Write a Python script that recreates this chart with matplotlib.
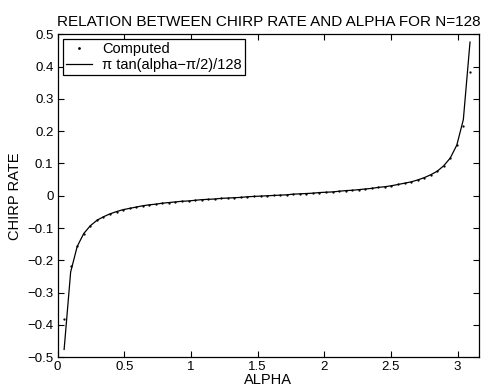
import numpy as np
from matplotlib import pyplot as plt

plt.rcParams['font.family'] = ['Liberation Sans', 'DejaVu Sans']

# alpha samples (k * pi / 64, k = 1..63)
alpha = [0.049, 0.098, 0.147, 0.196, 0.245, 0.295, 0.344, 0.393, 0.442,
         0.491, 0.540, 0.589, 0.638, 0.687, 0.736, 0.785, 0.834, 0.884,
         0.933, 0.982, 1.031, 1.080, 1.129, 1.178, 1.227, 1.276, 1.325,
         1.374, 1.424, 1.473, 1.522, 1.571, 1.620, 1.669, 1.718, 1.767,
         1.816, 1.865, 1.914, 1.963, 2.013, 2.062, 2.111, 2.160, 2.209,
         2.258, 2.307, 2.356, 2.405, 2.454, 2.503, 2.553, 2.602, 2.651,
         2.700, 2.749, 2.798, 2.847, 2.896, 2.945, 2.994, 3.043, 3.093]

# curve pi*tan(alpha-pi/2)/128
half_curve = [-0.476, -0.236, -0.157, -0.117, -0.093, -0.076, -0.065, -0.056,
              -0.049, -0.043, -0.039, -0.035, -0.031, -0.028, -0.026, -0.023,
              -0.021, -0.019, -0.017, -0.016, -0.014, -0.012, -0.011, -0.010,
              -0.008, -0.007, -0.006, -0.005, -0.003, -0.002, -0.001]
curve = half_curve + [0.0] + [-v for v in half_curve[::-1]]

# computed chirp rates (dots)
half_computed = [-0.382, -0.216] + half_curve[2:]
computed = half_computed + [0.0] + [-v for v in half_computed[::-1]]

fig = plt.figure(figsize=(4.88, 3.9), dpi=100)
ax = fig.add_axes([0.118, 0.084, 0.864, 0.828])

ax.plot(alpha, computed, '.', color='black', markersize=1.3, label='Computed')
ax.plot(alpha, curve, '-', color='black', linewidth=0.9,
        label='\u03c0 tan(alpha\u2212\u03c0/2)/128')

ax.set_xlim(0, 3.162)
ax.set_ylim(-0.5, 0.5)
ax.set_xticks([0, 0.5, 1, 1.5, 2, 2.5, 3])
ax.set_xticklabels(['0', '0.5', '1', '1.5', '2', '2.5', '3'])
ax.set_yticks(np.round(np.arange(-0.5, 0.51, 0.1), 1))
ax.set_yticklabels(['\u22120.5', '\u22120.4', '\u22120.3', '\u22120.2', '\u22120.1', '0',
                    '0.1', '0.2', '0.3', '0.4', '0.5'])
ax.tick_params(direction='in', top=True, right=True, length=4, width=0.8,
               labelsize=9.5, pad=3)
for s in ax.spines.values():
    s.set_linewidth(0.9)

ax.set_xlabel('ALPHA', fontsize=10.5, labelpad=0)
ax.set_ylabel('CHIRP RATE', fontsize=10.5, labelpad=4)
ax.set_title('RELATION BETWEEN CHIRP RATE AND ALPHA FOR N=128', fontsize=11, pad=6)

leg = ax.legend(loc='upper left', fontsize=10.5, fancybox=False, framealpha=1,
                edgecolor='black', borderpad=0.2, labelspacing=0.1,
                handlelength=1.8, handletextpad=0.7, borderaxespad=0.35,
                markerscale=1.5)
leg.get_frame().set_linewidth(0.9)

plt.savefig('out.png', dpi=100)
